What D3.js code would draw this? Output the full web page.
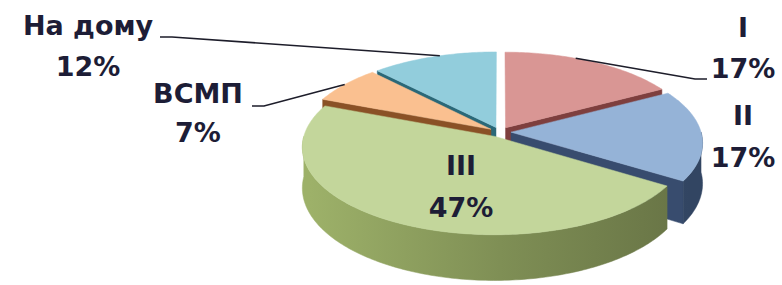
<!DOCTYPE html>
<html lang="ru">
<head>
<meta charset="utf-8">
<title>Распределение</title>
<script src="https://cdn.jsdelivr.net/npm/d3@7"></script>
<style>
body { margin: 0; background: #fff; }
svg text { font-family: "DejaVu Sans", sans-serif; font-weight: bold; font-size: 27px; fill: #1d1d36; }
</style>
</head>
<body>
<script>
// data
var categories = ["I", "II", "III", "ВСМП", "На дому"];
var values = [17, 17, 47, 7, 12];
var valueLabels = ["17%", "17%", "47%", "7%", "12%"];
var topColors = ["#D99694", "#95B3D7", "#C3D69B", "#FAC090", "#92CDDC"];
var sideColors = ["#8C4645", "#3E557A", "#7F8F55", "#9A5A2A", "#2F7485"];

// layout
var w = 782, h = 285;
var cx = 500, cy = 132, R = 190, tilt = 0.45, focal = 1600, depth = 40, explode = 11;

// label placement (text centre + baselines, leader start, where on the slice rim it points)
var labelPos = [
  {x: 743, y1: 37, y2: 78, lead: [707, 79], frac: 0.4},
  {x: 743, y1: 125, y2: 167},
  {x: 461, y1: 175, y2: 217},
  {x: 198, y1: 103, y2: 142, lead: [252, 106], frac: 0.5},
  {x: 88, y1: 35, y2: 76, lead: [160, 37], frac: 0.55}
];

var svg = d3.select("body").append("svg")
  .attr("width", w)
  .attr("height", h);

var defs = svg.append("defs");

// simple perspective: r/a on the pie plane, off = explode shift, hg = drop below the top face
function proj(r, a, off, hg) {
  var X = r * Math.sin(a) + off.x;
  var D = -r * Math.cos(a) + off.d;
  var s = focal / (focal - D);
  return [cx + X * s, cy + (D * tilt + hg) * s];
}

function rim(a0, a1, off, hg) {
  var pts = [];
  var n = Math.max(2, Math.ceil(Math.abs(a1 - a0) / (Math.PI / 180)));
  for (var i = 0; i <= n; i++) {
    pts.push(proj(R, a0 + (a1 - a0) * i / n, off, hg));
  }
  return pts;
}

var line = d3.line().curve(d3.curveLinearClosed);

var arcs = d3.pie().sort(null).value(function(d) { return d; })(values);

arcs.forEach(function(d, i) {
  d.mid = (d.startAngle + d.endAngle) / 2;
  d.off = {x: explode * Math.sin(d.mid), d: -explode * Math.cos(d.mid)};
  d.idx = i;

  var g = defs.append("linearGradient")
    .attr("id", "wall" + i)
    .attr("gradientUnits", "userSpaceOnUse")
    .attr("x1", cx - R).attr("x2", cx + R)
    .attr("y1", 0).attr("y2", 0);
  g.append("stop").attr("offset", 0).attr("stop-color", d3.color(sideColors[i]).brighter(0.6));
  g.append("stop").attr("offset", 0.5).attr("stop-color", sideColors[i]);
  g.append("stop").attr("offset", 1).attr("stop-color", d3.color(sideColors[i]).darker(0.6));
});

// back slices first
var order = arcs.slice().sort(function(a, b) { return Math.cos(b.mid) - Math.cos(a.mid); });

var slices = svg.append("g");

order.forEach(function(d) {
  var i = d.idx;
  var g = slices.append("g");
  var faceCol = d3.color(sideColors[i]).darker(0.3);

  // radial faces that look toward the viewer
  [[d.startAngle, Math.sin(d.startAngle) < -1e-6], [d.endAngle, Math.sin(d.endAngle) > 1e-6]]
    .forEach(function(f) {
      if (!f[1]) return;
      var a = f[0];
      g.append("path")
        .attr("d", line([proj(0, a, d.off, 0), proj(R, a, d.off, 0), proj(R, a, d.off, depth), proj(0, a, d.off, depth)]))
        .attr("fill", faceCol)
        .attr("stroke", faceCol)
        .attr("stroke-width", 0.5);
    });

  // outer wall, front half only
  var a0 = Math.max(d.startAngle, Math.PI / 2);
  var a1 = Math.min(d.endAngle, Math.PI * 1.5);
  if (a1 > a0) {
    var pts = rim(a0, a1, d.off, 0).concat(rim(a1, a0, d.off, depth));
    g.append("path")
      .attr("d", line(pts))
      .attr("fill", "url(#wall" + i + ")")
      .attr("stroke", "url(#wall" + i + ")")
      .attr("stroke-width", 0.5);
  }

  // top face
  var top = [proj(0, 0, d.off, 0)].concat(rim(d.startAngle, d.endAngle, d.off, 0));
  g.append("path")
    .attr("d", line(top))
    .attr("fill", topColors[i])
    .attr("stroke", topColors[i])
    .attr("stroke-width", 0.5);
});

// leader lines
var leaders = svg.append("g");
arcs.forEach(function(d, i) {
  var p = labelPos[i];
  if (!p.lead) return;
  var end = proj(R, d.startAngle + p.frac * (d.endAngle - d.startAngle), d.off, 0);
  var dir = p.lead[0] > cx ? -1 : 1;
  leaders.append("path")
    .attr("d", d3.line()([p.lead, [p.lead[0] + dir * 12, p.lead[1]], end]))
    .attr("fill", "none")
    .attr("stroke", "#1d1d2a")
    .attr("stroke-width", 1.6);
});

// labels
var labels = svg.append("g");
categories.forEach(function(c, i) {
  var p = labelPos[i];
  labels.append("text")
    .attr("x", p.x).attr("y", p.y1)
    .attr("text-anchor", "middle")
    .text(c);
  labels.append("text")
    .attr("x", p.x).attr("y", p.y2)
    .attr("text-anchor", "middle")
    .text(valueLabels[i]);
});
</script>
</body>
</html>
